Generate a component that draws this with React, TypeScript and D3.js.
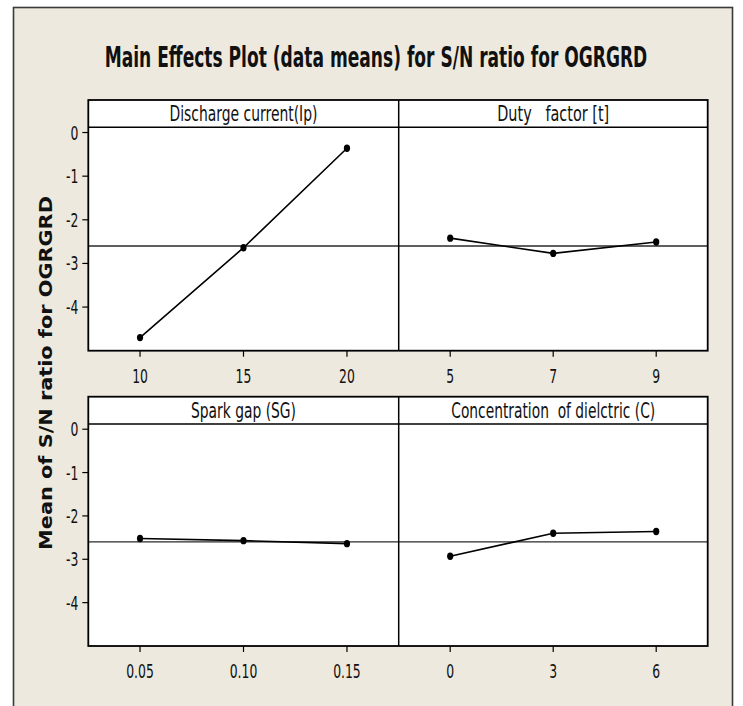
import React, { useLayoutEffect, useRef } from "react";
import * as d3 from "d3";

const title = "Main Effects Plot (data means) for S/N ratio for OGRGRD";
const yLabel = "Mean of S/N ratio for OGRGRD";
const factorNames = [
  "Discharge current(Ip)",
  "Duty   factor [t]",
  "Spark gap (SG)",
  "Concentration  of dielctric (C)",
];
const ipLevels = ["10", "15", "20"];
const ipMeans = [-4.7, -2.64, -0.36];
const dutyLevels = ["5", "7", "9"];
const dutyMeans = [-2.42, -2.77, -2.51];
const sgLevels = ["0.05", "0.10", "0.15"];
const sgMeans = [-2.52, -2.57, -2.64];
const concLevels = ["0", "3", "6"];
const concMeans = [-2.93, -2.4, -2.36];
const grandMean = -2.6;
const yTicks = [0, -1, -2, -3, -4];
const yDomain = [-5.0, 0.12];

const W = 743;
const H = 706;
const BG = "#EDE9DF";
const FONT = "'DejaVu Sans', sans-serif";

const cols = [
  { x0: 88.3, x1: 398.7 },
  { x0: 398.7, x1: 707.7 },
];
const rows = [
  { hTop: 100, hBot: 127.3, pBot: 350.7 },
  { hTop: 396.7, hBot: 424, pBot: 646 },
];
const headerWidths = [148, 112, 105, 204];

type FitProps = {
  x: number;
  y: number;
  text: string;
  width?: number;
  sx?: number;
  anchor?: "start" | "middle" | "end";
  size: number;
  bold?: boolean;
  rotate?: number;
};

function FitText({ x, y, text, width, sx, anchor = "middle", size, bold, rotate = 0 }: FitProps) {
  const ref = useRef<SVGTextElement>(null);
  useLayoutEffect(() => {
    const el = ref.current;
    if (!el) return;
    let s = sx ?? 1;
    if (width) {
      const len = el.getComputedTextLength();
      if (len > 0) s = width / len;
    }
    el.setAttribute("transform", `translate(${x},${y}) rotate(${rotate}) scale(${s},1)`);
  }, [x, y, text, width, sx, rotate]);
  return (
    <text
      ref={ref}
      transform={`translate(${x},${y}) rotate(${rotate}) scale(${sx ?? 1},1)`}
      textAnchor={anchor}
      fontFamily={FONT}
      fontWeight={bold ? "bold" : "normal"}
      fontSize={size}
      fill="#111"
      style={{ whiteSpace: "pre" }}
    >
      {text}
    </text>
  );
}

const panels = [
  { name: factorNames[0], levels: ipLevels, means: ipMeans, r: 0, c: 0, tw: headerWidths[0] },
  { name: factorNames[1], levels: dutyLevels, means: dutyMeans, r: 0, c: 1, tw: headerWidths[1] },
  { name: factorNames[2], levels: sgLevels, means: sgMeans, r: 1, c: 0, tw: headerWidths[2] },
  { name: factorNames[3], levels: concLevels, means: concMeans, r: 1, c: 1, tw: headerWidths[3] },
];

function Panel({ p }: { p: (typeof panels)[number] }) {
  const col = cols[p.c];
  const row = rows[p.r];
  const x = d3.scalePoint<string>().domain(p.levels).range([col.x0, col.x1]).padding(0.5);
  const y = d3.scaleLinear().domain(yDomain).range([row.pBot, row.hBot]);
  const pts: [number, number][] = p.levels.map((l, i) => [x(l) as number, y(p.means[i])]);
  const line = d3.line()(pts) || "";
  return (
    <g>
      <rect x={col.x0} y={row.hTop} width={col.x1 - col.x0} height={row.pBot - row.hTop} fill="#fff" />
      <line x1={col.x0} x2={col.x1} y1={y(grandMean)} y2={y(grandMean)} stroke="#2a2a2a" strokeWidth={1.3} />
      <path d={line} fill="none" stroke="#000" strokeWidth={1.6} />
      {pts.map((pt, i) => (
        <ellipse key={i} cx={pt[0]} cy={pt[1]} rx={3.1} ry={3.7} fill="#000" />
      ))}
      <line x1={col.x0} x2={col.x1} y1={row.hBot} y2={row.hBot} stroke="#000" strokeWidth={1.5} />
      <FitText x={(col.x0 + col.x1) / 2} y={row.hBot - 6} text={p.name} width={p.tw} size={22} />
      {p.levels.map((l) => (
        <g key={l}>
          <line x1={x(l)} x2={x(l)} y1={row.pBot} y2={row.pBot + 6} stroke="#000" strokeWidth={1.2} />
          <FitText x={x(l) as number} y={row.pBot + 32} text={l} sx={0.62} size={20} />
        </g>
      ))}
      {p.c === 0 &&
        yTicks.map((t) => (
          <g key={t}>
            <line x1={col.x0 - 6} x2={col.x0} y1={y(t)} y2={y(t)} stroke="#000" strokeWidth={1.2} />
            <FitText x={col.x0 - 10} y={y(t) + 7} text={String(t)} sx={0.62} size={20} anchor="end" />
          </g>
        ))}
    </g>
  );
}

export default function App() {
  return (
    <svg width={W} height={H} style={{ position: "absolute", left: 0, top: 0, background: "#fff" }}>
      <rect x={13.5} y={7.5} width={719} height={720} fill={BG} stroke="#3a3a3a" strokeWidth={1.6} />
      <FitText x={376} y={67} text={title} width={543} size={29} bold />
      <FitText x={52} y={373} text={yLabel} width={354} size={18} bold rotate={-90} />
      {panels.map((p, i) => (
        <Panel key={i} p={p} />
      ))}
      {rows.map((row, i) => (
        <g key={i}>
          <rect
            x={cols[0].x0}
            y={row.hTop}
            width={cols[1].x1 - cols[0].x0}
            height={row.pBot - row.hTop}
            fill="none"
            stroke="#000"
            strokeWidth={1.8}
          />
          <line x1={cols[0].x1} x2={cols[0].x1} y1={row.hTop} y2={row.pBot} stroke="#000" strokeWidth={1.5} />
        </g>
      ))}
    </svg>
  );
}
